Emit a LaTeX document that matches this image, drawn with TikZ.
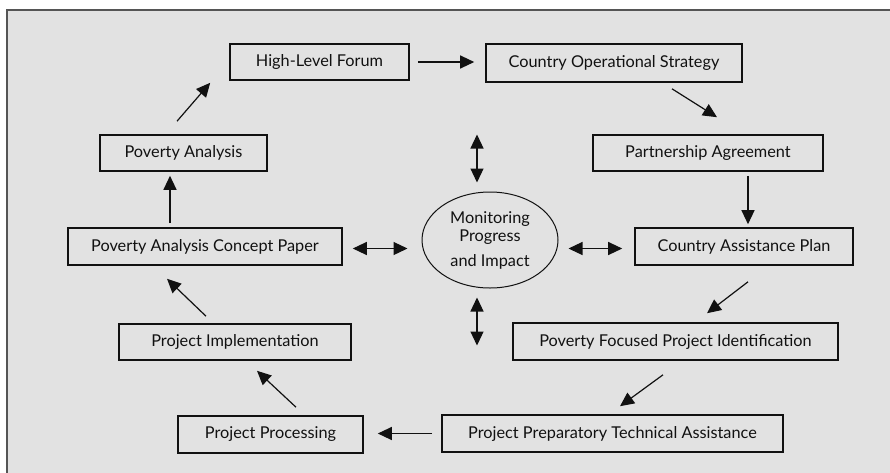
\documentclass[tikz,border=0pt]{standalone}
\usepackage{fontspec}
\setmainfont{Lato}
\usepackage{tikz}
\usetikzlibrary{shapes,arrows.meta,calc,positioning}
\definecolor{panel}{HTML}{E2E2E2}
\definecolor{frame}{HTML}{555555}
\definecolor{ink}{HTML}{111111}
\tikzstyle{box}=[rectangle, draw=ink, text=ink, line width=1.6pt, minimum height=36pt,
  inner sep=0pt, font=\fontsize{16.3}{18}\selectfont]
\tikzstyle{arr}=[ink, line width=1.2pt, -{Triangle[length=14pt,width=13pt]}]
\tikzstyle{darr}=[ink, line width=1.2pt,
  {Triangle[length=14pt,width=13pt]}-{Triangle[length=14pt,width=13pt]}]

\begin{document}
\begin{tikzpicture}[x=1pt,y=-1pt]
  \useasboundingbox (0,0) rectangle (890,472);
  % panel
  \fill[panel] (7,10) rectangle (895,480);
  \draw[frame, line width=2pt] (895,10) -- (7,10) -- (7,480);
  % top row
  \node[box, minimum width=179pt] (hlf) at (319.5,62) {High-Level Forum};
  \node[box, minimum width=256pt, minimum height=38pt] (cos) at (614,63)
    {Country Operational Strategy};
  % left column
  \node[box, minimum width=167pt] (pa) at (183.5,153) {Poverty Analysis};
  \node[box, minimum width=274pt, minimum height=37pt] (pacp) at (205,246.5)
    {Poverty Analysis Concept Paper};
  \node[box, minimum width=232pt] (pi) at (235,342) {Project Implementation};
  \node[box, minimum width=185pt, minimum height=37pt] (pp) at (270.5,434.5)
    {Project Processing};
  % right column
  \node[box, minimum width=230pt] (pag) at (708,153) {Partnership Agreement};
  \node[box, minimum width=218pt, minimum height=37pt] (cap) at (744,246.5)
    {Country Assistance Plan};
  \node[box, minimum width=325pt, minimum height=37pt] (pfpi) at (675.5,341.5)
    {Poverty Focused Project Identification};
  \node[box, minimum width=341pt, minimum height=37pt] (ppta) at (612.5,433.5)
    {Project Preparatory Technical Assistance};
  % centre
  \node[ellipse, draw=ink, text=ink, line width=1pt, minimum width=136pt,
    minimum height=96pt, inner sep=0pt, align=center,
    font=\fontsize{16.3}{18}\selectfont] (mon) at (490,240)
    {Monitoring\\Progress\\[7pt]and Impact};
  % cycle
  \draw[arr, shorten <=8pt, shorten >=11pt] (hlf.east) -- (hlf.east -| cos.west);
  \draw[arr] ([shift={(58,6)}]cos.south) -- ([shift={(9,-17)}]pag.north);
  \draw[arr, shorten <=4pt, shorten >=3pt]
    ([xshift=4pt]cap.north |- pag.south) -- ([xshift=4pt]cap.north);
  \draw[arr] ([shift={(4,16)}]cap.south) -- ([shift={(31.5,-9)}]pfpi.north);
  \draw[arr] ([shift={(-12.5,14)}]pfpi.south) -- ([shift={(7.5,-8)}]ppta.north);
  \draw[arr, shorten <=9pt, shorten >=14pt] (ppta.west) -- (ppta.west -| pp.east);
  \draw[arr] ([shift={(25.5,-8)}]pp.north) -- ([shift={(22,10)}]pi.south);
  \draw[arr] ([shift={(-29,-7)}]pi.north) -- ([shift={(-38,13)}]pacp.south);
  \draw[arr] ([shift={(-35,-4)}]pacp.north) -- ([shift={(-13.5,4)}]pa.south);
  \draw[arr] ([shift={(-6.5,-13)}]pa.north) -- ([shift={(-19,2)}]hlf.south west);
  % monitoring links
  \draw[darr, shorten <=10pt, shorten >=14pt]
    ([yshift=-2pt]pacp.east) -- ([yshift=-2pt]pacp.east -| mon.west);
  \draw[darr, shorten <=10pt, shorten >=12pt]
    ([yshift=-2pt]cap.west -| mon.east) -- ([yshift=-2pt]cap.west);
  \draw[darr] ([shift={(-13,-9)}]mon.north) -- ([shift={(-13,-57)}]mon.north);
  \draw[darr] ([shift={(-13,9)}]mon.south) -- ([shift={(-13,57)}]mon.south);
\end{tikzpicture}
\end{document}
